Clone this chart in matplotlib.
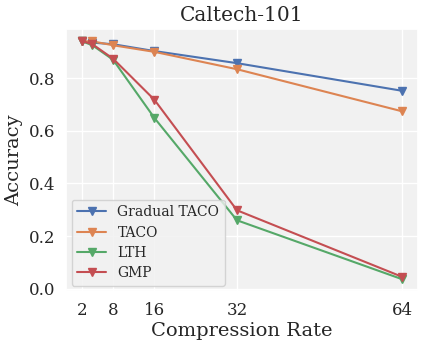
import matplotlib
matplotlib.use("Agg")
import matplotlib.pyplot as plt
import seaborn as sns

rates = [2, 4, 8, 16, 32, 64]
gradual_taco = [0.940, 0.935, 0.929, 0.903, 0.857, 0.752]
taco = [0.940, 0.940, 0.925, 0.900, 0.834, 0.674]
lth = [0.940, 0.925, 0.870, 0.649, 0.260, 0.036]
gmp = [0.941, 0.929, 0.874, 0.718, 0.298, 0.045]
xticks = [2, 8, 16, 32, 64]
yticks = [0.0, 0.2, 0.4, 0.6, 0.8]

sns.set_theme(style="darkgrid", rc={"axes.facecolor": "#f1f1f1"})
plt.rcParams['font.family'] = ['DejaVu Serif']

colors = sns.color_palette("deep")
fig = plt.figure(figsize=(4.32, 3.47), dpi=100)
ax = fig.add_axes([0.153, 0.161, 0.815, 0.755])

series = [("Gradual TACO", gradual_taco), ("TACO", taco), ("LTH", lth), ("GMP", gmp)]
for i, (name, vals) in enumerate(series):
    ax.plot(rates, vals, marker="v", color=colors[i], label=name, linewidth=1.5, markersize=6)

ax.set_xticks(xticks)
ax.set_yticks(yticks)
ax.tick_params(axis='both', labelsize=12, pad=2)
ax.set_xlabel("Compression Rate", fontsize=14, labelpad=2)
ax.set_ylabel("Accuracy", fontsize=14, labelpad=4)
ax.set_title("Caltech-101", fontsize=14.5, pad=6)
ax.legend(loc="lower left", fontsize=10, handlelength=2.1, labelspacing=0.45,
          borderaxespad=0.4)

fig.savefig("out.png", dpi=100)
